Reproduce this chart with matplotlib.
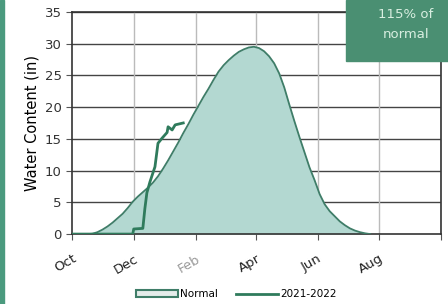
import matplotlib.pyplot as plt
from matplotlib.patches import Rectangle

# days since Oct 1
normal_days = [0, 15, 20, 25, 30, 35, 40, 45, 50, 55, 60, 65, 70, 75, 80, 85, 90, 95,
               100, 105, 110, 115, 120, 125, 130, 135, 140, 145, 150, 155, 160, 165,
               170, 175, 180, 185, 190, 195, 200, 205, 210, 215, 220, 225, 230, 235,
               240, 245, 250, 255, 260, 265, 270, 275, 280, 285, 290, 295]
normal_swe = [0, 0, 0.05, 0.3, 0.7, 1.2, 1.8, 2.5, 3.2, 4.1, 5.1, 5.9, 6.6, 7.3, 8.1, 9.1,
              10.3, 11.6, 13.0, 14.4, 15.9, 17.3, 18.8, 20.2, 21.6, 22.9, 24.3, 25.6,
              26.6, 27.4, 28.1, 28.7, 29.1, 29.4, 29.5, 29.3, 28.8, 28.0, 26.9, 25.3,
              23.1, 20.4, 17.8, 15.3, 12.9, 10.5, 8.5, 6.3, 4.7, 3.6, 2.8, 2.0, 1.4,
              0.9, 0.55, 0.3, 0.12, 0]

wy_days = [0, 60, 61, 70, 72, 74, 77, 82, 85, 89, 94, 95, 99, 102, 110]
wy_swe = [0, 0, 0.8, 0.9, 4.0, 6.5, 8.2, 10.6, 14.3, 15.1, 16.0, 16.9, 16.4, 17.2, 17.5]

tick_days = [0, 61, 123, 182, 243, 304, 365]
tick_labels = ["Oct", "Dec", "Feb", "Apr", "Jun", "Aug", ""]

fig = plt.figure(figsize=(4.48, 3.04), dpi=100)
ax = fig.add_axes([0.161, 0.230, 0.823, 0.731])

ax.fill_between(normal_days, normal_swe, color="#b3d8d1", ec="#3f7d68", lw=0,
                zorder=2, label="Normal")
ax.plot(normal_days, normal_swe, color="#3f7d68", lw=1.3, zorder=3)
ax.plot(wy_days, wy_swe, color="#2f7b5c", lw=2.0, zorder=4, label="2021-2022")

ax.set_xlim(0, 365)
ax.set_ylim(0, 35)
ax.set_yticks(range(0, 36, 5))
ax.set_xticks(tick_days)
ax.set_xticklabels(tick_labels, rotation=30, ha="right", rotation_mode="anchor", fontsize=9.5)
ax.tick_params(axis="y", labelsize=9.5, length=4, color="#555555", labelcolor="#333333")
ax.tick_params(axis="x", length=4, pad=9, color="#555555", labelcolor="#222222")
ax.get_xticklabels()[2].set_color("#999999")

for y in range(5, 36, 5):
    ax.axhline(y, color="#444444", lw=1.0, zorder=1)
for d in tick_days[1:]:
    ax.axvline(d, color="#bbbbbb", lw=1.0, zorder=1)
for s in ax.spines.values():
    s.set_color("#333333")
    s.set_linewidth(1.2)

ax.set_ylabel("Water Content (in)", fontsize=10.5, labelpad=4)

h, l = ax.get_legend_handles_labels()
leg = ax.legend(h, l, loc="upper center", bbox_to_anchor=(0.445, -0.205), ncol=2,
                frameon=False, fontsize=7.5, handlelength=4, handleheight=0.6,
                columnspacing=1.8, handletextpad=0.2)
leg.legend_handles[0].set_facecolor("#e4ecea")
leg.legend_handles[0].set_edgecolor("#3f7d68")
leg.legend_handles[0].set_linewidth(1.5)

# green frame bits
fig.patches.append(Rectangle((0, 0), 4 / 448, 1, transform=fig.transFigure,
                             color="#4b9a7e", zorder=0))
fig.patches.append(Rectangle((346 / 448, 1 - 61 / 304), 102 / 448, 61 / 304,
                             transform=fig.transFigure, color="#4a8f72", zorder=5))
fig.text(406 / 448, 1 - 14 / 304, "115% of", ha="center", va="center",
         color="#d8eee0", fontsize=9.5, zorder=6)
fig.text(406 / 448, 1 - 34 / 304, "normal", ha="center", va="center",
         color="#d8eee0", fontsize=9.5, zorder=6)

fig.savefig("out.png", dpi=100)
